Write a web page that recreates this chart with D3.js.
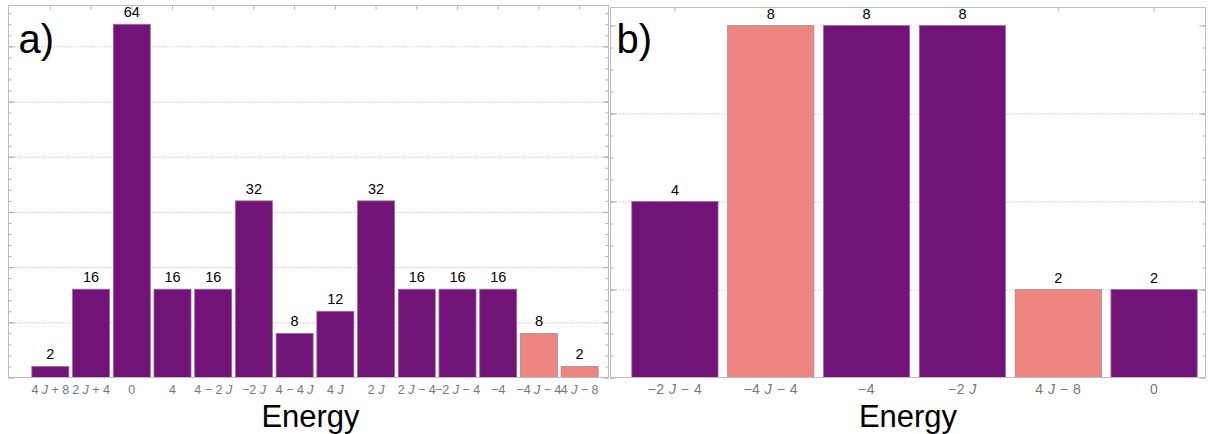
<!DOCTYPE html>
<html>
<head>
<meta charset="utf-8">
<script src="https://d3js.org/d3.v7.min.js"></script>
<style>
  body { margin: 0; background: #fff; }
  svg { font-family: "Liberation Sans", Arial, sans-serif; }
  .frame { fill: none; stroke: #bdbdbd; stroke-width: 1; }
  .grid line { stroke: #b8b8b8; stroke-dasharray: 1.2,1.8; }
  .grid path, .ticks path { display: none; }
  .ticks line { stroke: #b0b0b0; }
  .cat { fill: #777; }
</style>
</head>
<body>
<svg id="chart" width="1209" height="434"></svg>
<script>
// panel a)
var catsA = ['4 J + 8', '2 J + 4', '0', '4', '4 \u2212 2 J', '\u22122 J', '4 \u2212 4 J', '4 J',
             '2 J', '2 J \u2212 4', '\u22122 J \u2212 4', '\u22124', '\u22124 J \u2212 4', '4 J \u2212 8'];
var countsA = [2, 16, 64, 16, 16, 32, 8, 12, 32, 16, 16, 16, 8, 2];
var groupA = [0, 0, 0, 0, 0, 0, 0, 0, 0, 0, 0, 0, 1, 1];

// panel b)
var catsB = ['\u22122 J \u2212 4', '\u22124 J \u2212 4', '\u22124', '\u22122 J', '4 J \u2212 8', '0'];
var countsB = [4, 8, 8, 8, 2, 2];
var groupB = [0, 1, 0, 0, 1, 0];

var colors = ['#721477', '#ee8580'];

var svg = d3.select('#chart');

function panel(o) {
  var g = svg.append('g');
  var x = d3.scaleBand().domain(o.cats).range(o.band)
    .paddingInner(o.pad).paddingOuter(o.pad / 2);
  var y = d3.scaleLinear().domain([0, o.ymax]).range([o.bottom, o.top]);

  // dotted grid
  g.append('g').attr('class', 'grid')
    .attr('transform', 'translate(' + o.left + ',0)')
    .call(d3.axisRight(y).tickValues(o.grid).tickSize(o.right - o.left).tickFormat(''));

  // frame ticks
  var minor = d3.range(0, o.ymax, o.minorStep);
  var major = d3.range(0, o.ymax, o.majorStep);
  g.append('g').attr('class', 'ticks').attr('transform', 'translate(' + o.left + ',0)')
    .call(d3.axisLeft(y).tickValues(minor).tickSize(-3).tickFormat(''));
  g.append('g').attr('class', 'ticks').attr('transform', 'translate(' + o.left + ',0)')
    .call(d3.axisLeft(y).tickValues(major).tickSize(-6).tickFormat(''));
  g.append('g').attr('class', 'ticks').attr('transform', 'translate(' + o.right + ',0)')
    .call(d3.axisRight(y).tickValues(minor).tickSize(-3).tickFormat(''));
  g.append('g').attr('class', 'ticks').attr('transform', 'translate(' + o.right + ',0)')
    .call(d3.axisRight(y).tickValues(major).tickSize(-6).tickFormat(''));
  g.append('g').attr('class', 'ticks').attr('transform', 'translate(0,' + o.top + ')')
    .call(d3.axisTop(x).tickSize(-4).tickFormat(''));
  g.append('g').attr('class', 'ticks').attr('transform', 'translate(0,' + o.bottom + ')')
    .call(d3.axisBottom(x).tickSize(-4).tickFormat(''));

  // bars
  g.selectAll('rect.bar').data(o.cats).enter().append('rect')
    .attr('class', 'bar')
    .attr('x', function(d) { return x(d); })
    .attr('width', x.bandwidth())
    .attr('y', function(d, i) { return y(o.counts[i]); })
    .attr('height', function(d, i) { return o.bottom - y(o.counts[i]); })
    .attr('fill', function(d, i) { return colors[o.group[i]]; })
    .attr('stroke', function(d, i) { return o.group[i] ? '#a09090' : '#9a6f9e'; })
    .attr('stroke-width', 0.8);

  // value labels
  g.selectAll('text.val').data(o.cats).enter().append('text')
    .attr('class', 'val')
    .attr('x', function(d) { return x(d) + x.bandwidth() / 2; })
    .attr('y', function(d, i) { return y(o.counts[i]) - 7; })
    .attr('text-anchor', 'middle')
    .attr('font-size', o.valSize)
    .text(function(d, i) { return o.counts[i]; });

  // category labels, J in italics
  var lab = g.selectAll('text.cat').data(o.cats).enter().append('text')
    .attr('class', 'cat')
    .attr('x', function(d) { return x(d) + x.bandwidth() / 2; })
    .attr('y', o.bottom + 16)
    .attr('text-anchor', 'middle')
    .attr('font-size', o.catSize)
    .attr('letter-spacing', o.catSpacing);
  lab.each(function(d) {
    var t = d3.select(this);
    d.split(/(J)/).forEach(function(s) {
      if (!s) return;
      t.append('tspan').attr('font-style', s === 'J' ? 'italic' : null).text(s);
    });
  });

  g.append('rect').attr('class', 'frame')
    .attr('x', o.left).attr('y', o.top)
    .attr('width', o.right - o.left).attr('height', o.bottom - o.top);

  g.append('text')
    .attr('x', (o.left + o.right) / 2 + o.titleShift)
    .attr('y', 427)
    .attr('text-anchor', 'middle')
    .attr('font-size', 31)
    .text('Energy');

  g.append('text')
    .attr('x', o.left + o.tagDx)
    .attr('y', 53)
    .attr('font-size', 40)
    .text(o.tag);
}

panel({
  cats: catsA, counts: countsA, group: groupA,
  left: 8.5, right: 608.5, top: 5.5, bottom: 377.5,
  band: [30, 600], pad: 0.09, ymax: 67.4,
  grid: [10, 20, 30, 40, 50, 60], minorStep: 2, majorStep: 10,
  valSize: 14.5, catSize: 12.5, catSpacing: 0, titleShift: 2, tag: 'a)', tagDx: 10
});

panel({
  cats: catsB, counts: countsB, group: groupB,
  left: 610.5, right: 1205.5, top: 7.5, bottom: 377.5,
  band: [627, 1202], pad: 0.1, ymax: 8.41,
  grid: [2, 4, 6], minorStep: 0.5, majorStep: 2,
  valSize: 14.5, catSize: 14, catSpacing: 0.5, titleShift: 0, tag: 'b)', tagDx: 6
});
</script>
</body>
</html>
